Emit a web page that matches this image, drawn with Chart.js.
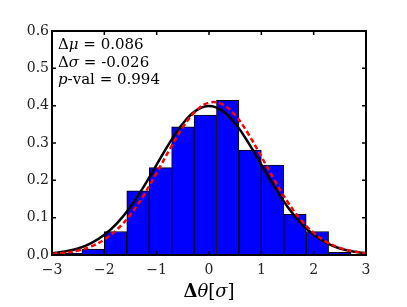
<!DOCTYPE html>
<html>
<head>
<meta charset="utf-8">
<script src="https://cdn.jsdelivr.net/npm/chart.js@4.4.0/dist/chart.umd.min.js"></script>
<style>
  html, body { margin: 0; padding: 0; background: #fff; }
  #wrap { width: 407px; height: 307px; }
</style>
</head>
<body>
<div id="wrap"><canvas id="histChart" width="407" height="307"></canvas></div>
<script>
// histogram bins (centres) and normalised heights
const binCenters = [-2.643, -2.214, -1.786, -1.357, -0.929, -0.5, -0.071, 0.357, 0.786, 1.214, 1.643, 2.071, 2.5];
const binDensity = [0.005, 0.016, 0.063, 0.172, 0.234, 0.343, 0.375, 0.414, 0.281, 0.241, 0.109, 0.063, 0.007];

// curves
const curveX = [-3, -2.75, -2.5, -2.25, -2, -1.75, -1.5, -1.25, -1, -0.75, -0.5, -0.25, 0,
                0.25, 0.5, 0.75, 1, 1.25, 1.5, 1.75, 2, 2.25, 2.5, 2.75, 3];
const refCurve = [0.0044, 0.0091, 0.0175, 0.0317, 0.054, 0.0863, 0.1295, 0.1826, 0.242, 0.3011, 0.3521, 0.3867, 0.3989,
                  0.3867, 0.3521, 0.3011, 0.242, 0.1826, 0.1295, 0.0863, 0.054, 0.0317, 0.0175, 0.0091, 0.0044];
const fitCurve = [0.0027, 0.0059, 0.0121, 0.0231, 0.0414, 0.0693, 0.1088, 0.1599, 0.2199, 0.2834, 0.3418, 0.3859, 0.408,
                  0.4038, 0.3742, 0.3247, 0.2637, 0.2006, 0.1428, 0.0951, 0.0594, 0.0347, 0.019, 0.0097, 0.0047];

const xTicks = [-3, -2, -1, 0, 1, 2, 3];
const yTicks = [0, 0.1, 0.2, 0.3, 0.4, 0.5, 0.6];
const statLines = [["Δ", "μ", " = 0.086"], ["Δ", "σ", " = -0.026"], ["", "p", "-val = 0.994"]];

const serif = "'DejaVu Serif', 'Liberation Serif', serif";

const framePlugin = {
  id: "frame",
  afterDraw(chart) {
    const ctx = chart.ctx;
    const a = chart.chartArea;
    const xs = chart.scales.x, ys = chart.scales.y;
    ctx.save();
    ctx.strokeStyle = "#000";
    // inward ticks
    ctx.lineWidth = 1.5;
    ctx.beginPath();
    xTicks.forEach(v => {
      const px = xs.getPixelForValue(v);
      ctx.moveTo(px, a.bottom); ctx.lineTo(px, a.bottom - 4);
      ctx.moveTo(px, a.top); ctx.lineTo(px, a.top + 4);
    });
    yTicks.forEach(v => {
      const py = ys.getPixelForValue(v);
      ctx.moveTo(a.left, py); ctx.lineTo(a.left + 4, py);
      ctx.moveTo(a.right, py); ctx.lineTo(a.right - 4, py);
    });
    ctx.stroke();
    // axes box
    ctx.lineWidth = 2;
    ctx.strokeRect(a.left, a.top, a.right - a.left, a.bottom - a.top);

    // stats text
    ctx.fillStyle = "#000";
    ctx.textBaseline = "alphabetic";
    ctx.textAlign = "left";
    statLines.forEach((parts, i) => {
      let x = a.left + 6;
      const y = a.top + 18 + i * 17.5;
      ctx.font = "15px " + serif;
      ctx.fillText(parts[0], x, y);
      x += ctx.measureText(parts[0]).width;
      ctx.font = "italic 15px " + serif;
      ctx.fillText(parts[1], x, y);
      x += ctx.measureText(parts[1]).width;
      ctx.font = "15px " + serif;
      ctx.fillText(parts[2], x, y);
    });

    // x axis title: bold Delta, italic theta and sigma
    const pieces = [["bold 18px ", "Δ"], ["italic 18px ", "θ"], ["18px ", "["], ["italic 18px ", "σ"], ["18px ", "]"]];
    let total = 0;
    pieces.forEach(p => { ctx.font = p[0] + serif; total += ctx.measureText(p[1]).width; });
    let tx = (a.left + a.right) / 2 - total / 2;
    pieces.forEach(p => {
      ctx.font = p[0] + serif;
      ctx.fillText(p[1], tx, 297);
      tx += ctx.measureText(p[1]).width;
    });
    ctx.restore();
  }
};

window.onload = function () {
  const ctx = document.getElementById("histChart").getContext("2d");
  new Chart(ctx, {
    type: "bar",
    data: {
      datasets: [
        {
          type: "line",
          data: curveX.map((x, i) => ({ x: x, y: fitCurve[i] })),
          borderColor: "#ff0000",
          borderWidth: 2.5,
          borderDash: [5, 3],
          pointRadius: 0,
          tension: 0.4,
          fill: false,
          order: 1
        },
        {
          type: "line",
          data: curveX.map((x, i) => ({ x: x, y: refCurve[i] })),
          borderColor: "#000",
          borderWidth: 2.5,
          pointRadius: 0,
          tension: 0.4,
          fill: false,
          order: 2
        },
        {
          type: "bar",
          data: binCenters.map((x, i) => ({ x: x, y: binDensity[i] })),
          backgroundColor: "#0000ff",
          borderColor: "#000",
          borderWidth: 1,
          barPercentage: 1,
          categoryPercentage: 1,
          order: 3
        }
      ]
    },
    options: {
      responsive: false,
      animation: false,
      layout: { padding: { left: 0, right: 41, top: 31, bottom: 0 } },
      plugins: { legend: { display: false }, tooltip: { enabled: false } },
      scales: {
        x: {
          type: "linear",
          min: -3,
          max: 3,
          offset: false,
          grid: { display: false, drawTicks: false },
          border: { display: false },
          afterFit(s) { s.height = 52; },
          ticks: {
            stepSize: 1,
            padding: 7,
            color: "#222",
            font: { family: serif, size: 14 },
            callback: v => (v < 0 ? "\u2212" + Math.abs(v) : "" + v)
          }
        },
        y: {
          min: 0,
          max: 0.6,
          grid: { display: false, drawTicks: false },
          border: { display: false },
          afterFit(s) { s.width = 52; },
          ticks: {
            stepSize: 0.1,
            padding: 3,
            color: "#222",
            font: { family: serif, size: 14 },
            callback: v => Number(v).toFixed(1)
          }
        }
      }
    },
    plugins: [framePlugin]
  });
};
</script>
</body>
</html>
